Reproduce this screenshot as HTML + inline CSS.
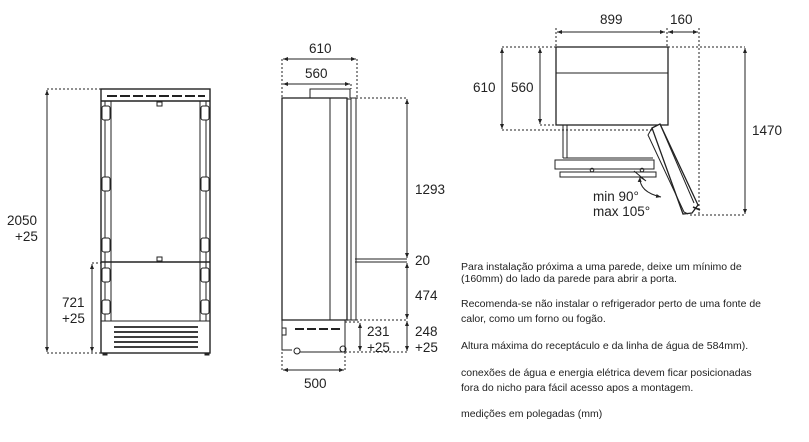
<!DOCTYPE html>
<html><head><meta charset="utf-8"><style>
body{margin:0;background:#fff;width:809px;height:442px;overflow:hidden}
svg{display:block}
text{font-family:"Liberation Sans",sans-serif;fill:#222}
.d{font-size:13.5px}
.t{font-size:10.5px}
</style></head><body>
<svg width="809" height="442" viewBox="0 0 809 442">
<defs>
<marker id="a" viewBox="0 0 10 10" refX="10" refY="5" markerWidth="5" markerHeight="5" orient="auto-start-reverse"><path d="M0,1 L10,5 L0,9z" fill="#222"/></marker>
</defs>
<g stroke="#222" fill="none" stroke-width="1">
<!-- FRONT VIEW -->
<rect x="101" y="89" width="109" height="264" stroke-width="1.4"/>
<line x1="101" y1="101" x2="210" y2="101" stroke-width="1.4"/>
<line x1="107" y1="96" x2="205" y2="96" stroke-width="2" stroke-dasharray="10,3"/>
<line x1="101" y1="262" x2="210" y2="262" stroke-width="1.6"/>
<line x1="101" y1="321" x2="210" y2="321"/>
<line x1="111" y1="101" x2="111" y2="321"/><line x1="200" y1="101" x2="200" y2="321"/>
<line x1="105" y1="101" x2="105" y2="321"/><line x1="206" y1="101" x2="206" y2="321"/>
<g stroke-width="1.8">
<line x1="114" y1="327" x2="198" y2="327"/><line x1="114" y1="332" x2="198" y2="332"/><line x1="114" y1="337" x2="198" y2="337"/><line x1="114" y1="342" x2="198" y2="342"/><line x1="114" y1="347" x2="198" y2="347"/>
</g>
<g fill="#fff">
<rect x="102" y="106" width="8" height="14" rx="2"/><rect x="201" y="106" width="8" height="14" rx="2"/>
<rect x="102" y="177" width="8" height="14" rx="2"/><rect x="201" y="177" width="8" height="14" rx="2"/>
<rect x="102" y="238" width="8" height="14" rx="2"/><rect x="201" y="238" width="8" height="14" rx="2"/>
<rect x="102" y="268" width="8" height="14" rx="2"/><rect x="201" y="268" width="8" height="14" rx="2"/>
<rect x="102" y="300" width="8" height="14" rx="2"/><rect x="201" y="300" width="8" height="14" rx="2"/>
<rect x="157" y="102" width="5" height="4"/><rect x="157" y="257" width="5" height="4"/>
</g>
<rect x="103" y="353" width="4" height="2" fill="#222"/><rect x="205" y="353" width="4" height="2" fill="#222"/>
<line x1="47" y1="89" x2="101" y2="89" stroke-dasharray="2,2"/>
<line x1="47" y1="353" x2="101" y2="353" stroke-dasharray="2,2"/>
<line x1="92" y1="263" x2="101" y2="263" stroke-dasharray="2,2"/>
<line x1="47" y1="90" x2="47" y2="352" marker-start="url(#a)" marker-end="url(#a)"/>
<line x1="92" y1="264" x2="92" y2="352" marker-start="url(#a)" marker-end="url(#a)"/>

<!-- SIDE VIEW -->
<rect x="282" y="98" width="65" height="222" stroke-width="1.3"/>
<line x1="330" y1="98" x2="330" y2="320"/>
<polyline points="310,98 310,89 350,89 350,98"/>
<rect x="347" y="99" width="4" height="221"/>
<rect x="351" y="98" width="5" height="222"/>
<line x1="355" y1="259" x2="407" y2="259"/><line x1="355" y1="262" x2="407" y2="262"/>
<path d="M282,320 H345 V352 H300 M282,320 V350 H292"/>
<rect x="282" y="328" width="4" height="7"/>
<circle cx="297" cy="351" r="3"/><circle cx="343" cy="349" r="3"/>
<line x1="295" y1="329" x2="340" y2="329" stroke-width="2" stroke-dasharray="9,3"/>
<line x1="282" y1="59" x2="282" y2="98" stroke-dasharray="2,2"/>
<line x1="357" y1="59" x2="357" y2="98" stroke-dasharray="2,2"/>
<line x1="351" y1="84" x2="351" y2="89" stroke-dasharray="2,2"/>
<line x1="283" y1="59" x2="356" y2="59" marker-start="url(#a)" marker-end="url(#a)"/>
<line x1="283" y1="84" x2="350" y2="84" marker-start="url(#a)" marker-end="url(#a)"/>
<line x1="356" y1="98" x2="407" y2="98" stroke-dasharray="2,2"/>
<line x1="356" y1="320" x2="407" y2="320" stroke-dasharray="2,2"/>
<line x1="345" y1="352" x2="407" y2="352" stroke-dasharray="2,2"/>
<line x1="345" y1="322" x2="360" y2="322" stroke-dasharray="2,2"/>
<line x1="407" y1="99" x2="407" y2="258" marker-start="url(#a)" marker-end="url(#a)"/>
<line x1="407" y1="263" x2="407" y2="319" marker-start="url(#a)" marker-end="url(#a)"/>
<line x1="407" y1="321" x2="407" y2="351" marker-start="url(#a)" marker-end="url(#a)"/>
<line x1="360" y1="323" x2="360" y2="351" marker-start="url(#a)" marker-end="url(#a)"/>
<line x1="282" y1="352" x2="282" y2="372" stroke-dasharray="2,2"/>
<line x1="345" y1="352" x2="345" y2="372" stroke-dasharray="2,2"/>
<line x1="283" y1="370" x2="344" y2="370" marker-start="url(#a)" marker-end="url(#a)"/>

<!-- TOP VIEW -->
<rect x="556" y="47" width="112" height="78" stroke-width="1.3"/>
<line x1="556" y1="73" x2="668" y2="73"/>
<line x1="556" y1="28" x2="556" y2="47" stroke-dasharray="2,2"/>
<line x1="667" y1="28" x2="667" y2="47" stroke-dasharray="2,2"/>
<line x1="699" y1="28" x2="699" y2="215" stroke-dasharray="2,2"/>
<line x1="557" y1="32" x2="665" y2="32" marker-start="url(#a)" marker-end="url(#a)"/>
<line x1="668" y1="32" x2="698" y2="32" marker-start="url(#a)" marker-end="url(#a)"/>
<line x1="502" y1="47" x2="556" y2="47" stroke-dasharray="2,2"/>
<line x1="668" y1="47" x2="745" y2="47" stroke-dasharray="2,2"/>
<line x1="502" y1="130" x2="655" y2="130" stroke-dasharray="2,2"/>
<line x1="540" y1="125" x2="556" y2="125" stroke-dasharray="2,2"/>
<line x1="690" y1="215" x2="745" y2="215" stroke-dasharray="2,2"/>
<line x1="502" y1="48" x2="502" y2="129" marker-start="url(#a)" marker-end="url(#a)"/>
<line x1="540" y1="48" x2="540" y2="124" marker-start="url(#a)" marker-end="url(#a)"/>
<line x1="745" y1="48" x2="745" y2="214" marker-start="url(#a)" marker-end="url(#a)"/>
<line x1="563" y1="125" x2="563" y2="158"/><line x1="567" y1="125" x2="567" y2="158"/>
<line x1="563" y1="158" x2="653" y2="158"/>
<rect x="555" y="160" width="99" height="9"/>
<rect x="560" y="172" width="96" height="5"/>
<circle cx="592" cy="170" r="1.8"/><circle cx="642" cy="170" r="1.8"/>
<path d="M652,128 L660,124 L698,205 L692,213 L683,214 Z" fill="#fff" stroke-width="1.3"/>
<path d="M652,128 L648,135 L684,212 L688,214" fill="none"/>
<line x1="660" y1="124" x2="694" y2="203"/>
<path d="M640,177 L646,181 L634,171" fill="none"/>
<path d="M640,177 Q639,192 661,197" marker-start="url(#a)" marker-end="url(#a)"/>
<line x1="693" y1="207" x2="700" y2="210" stroke-width="1.5"/>
</g>
<!-- labels -->
<text class="d" x="7" y="225">2050</text><text class="d" x="15" y="241">+25</text>
<text class="d" x="62" y="307">721</text><text class="d" x="62" y="323">+25</text>
<text class="d" x="309" y="53">610</text><text class="d" x="305" y="78">560</text>
<text class="d" x="415" y="194">1293</text>
<text class="d" x="415" y="265">20</text>
<text class="d" x="415" y="300">474</text>
<text class="d" x="367" y="336">231</text><text class="d" x="367" y="352">+25</text>
<text class="d" x="415" y="336">248</text><text class="d" x="415" y="352">+25</text>
<text class="d" x="304" y="388">500</text>
<text class="d" x="600" y="24">899</text><text class="d" x="670" y="24">160</text>
<text class="d" x="473" y="92">610</text><text class="d" x="511" y="92">560</text>
<text class="d" x="752" y="135">1470</text>
<text class="d" x="593" y="201">min 90°</text><text class="d" x="593" y="216">max 105°</text>
<text class="t" x="461" y="270">Para instalação próxima a uma parede, deixe um mínimo de</text>
<text class="t" x="461" y="282">(160mm) do lado da parede para abrir a porta.</text>
<text class="t" x="461" y="307">Recomenda-se não instalar o refrigerador perto de uma fonte de</text>
<text class="t" x="461" y="322">calor, como um forno ou fogão.</text>
<text class="t" x="461" y="349">Altura máxima do receptáculo e da linha de água de 584mm).</text>
<text class="t" x="461" y="376">conexões de água e energia elétrica devem ficar posicionadas</text>
<text class="t" x="461" y="391">fora do nicho para fácil acesso apos a montagem.</text>
<text class="t" x="461" y="417">medições em polegadas (mm)</text>
</svg>
</body></html>
